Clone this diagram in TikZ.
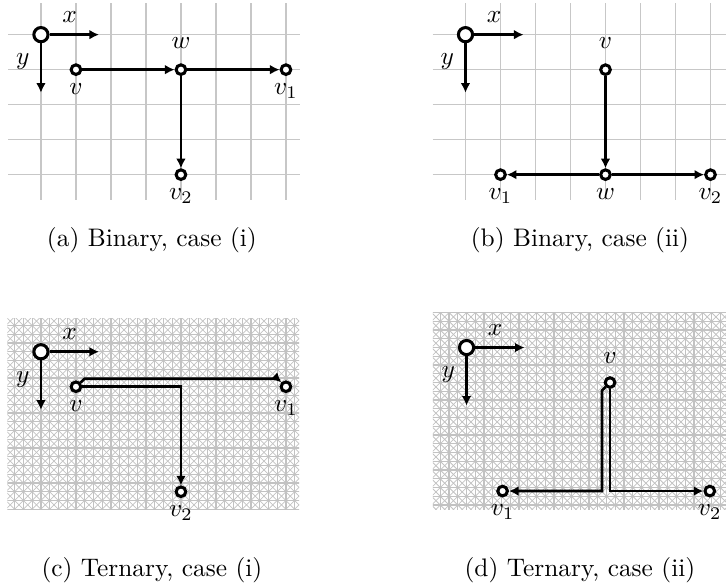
\documentclass[tikz,border=0pt]{standalone}
\usepackage{tikz}
\usetikzlibrary{arrows.meta, positioning, calc}
\tikzset{
  vertex/.style={
    circle, draw=black, fill=white, line width=1.2pt,
    inner sep=0pt, minimum size=3.8pt
  },
  origin/.style={
    circle, draw=black, fill=white, line width=1.2pt,
    inner sep=0pt, minimum size=5.6pt
  },
  arrow/.style={line width=1.05pt, -{Latex[length=3.8pt,width=3.8pt]}},
  gridline/.style={draw=black!22, line width=0.5pt},
  ternline/.style={draw=black!24, line width=0.5pt},
  terndiag/.style={draw=black!24, line width=0.3pt},
  lbl/.style={inner sep=1.5pt},
  caption/.style={font=\normalsize},
}

\begin{document}
\begin{tikzpicture}[x=0.485cm, y=-0.485cm, node distance=1.2pt]
  \useasboundingbox (0,0) rectangle (20.743,16.8);

  % (a) binary, case (i)
  \begin{scope}[shift={(1.17,0.99)}]
    \foreach \i in {0,...,7} \draw[gridline] (\i,-0.9) -- (\i,4.73);
    \foreach \j in {0,...,4} \draw[gridline] (-0.94,\j) -- (7.4,\j);
    \node (oa)  [origin] at (0,0) {};
    \coordinate (xa) at (1.66,0);
    \coordinate (ya) at (0,1.66);
    \node (lxa) [lbl] at (0.82,-0.5) {$x$};
    \node (lya) [lbl] at (-0.52,0.78) {$y$};
    \node (va)  [vertex] at (1,1) {};
    \node (wa)  [vertex] at (4,1) {};
    \node (va1) [vertex] at (7,1) {};
    \node (va2) [vertex] at (4,4) {};
    \node (lva)  [lbl, below=of va]      {$v$};
    \node (lwa)  [lbl, above=4.3pt of wa] {$w$};
    \node (lva1) [lbl, below=of va1]     {$v_1$};
    \node (lva2) [lbl, below=of va2]     {$v_2$};

    \draw [arrow] (oa) -- (xa);
    \draw [arrow] (oa) -- (ya);
    \draw [arrow] (va) -- (wa);
    \draw [arrow] (wa) -- (va1);
    \draw [arrow] (wa) -- (va2);
  \end{scope}

  % (b) binary, case (ii)
  \begin{scope}[shift={(13.3,0.99)}]
    \foreach \i in {0,...,7} \draw[gridline] (\i,-0.9) -- (\i,4.73);
    \foreach \j in {0,...,4} \draw[gridline] (-0.94,\j) -- (7.45,\j);
    \node (ob)  [origin] at (0,0) {};
    \coordinate (xb) at (1.66,0);
    \coordinate (yb) at (0,1.66);
    \node (lxb) [lbl] at (0.82,-0.5) {$x$};
    \node (lyb) [lbl] at (-0.52,0.78) {$y$};
    \node (vb)  [vertex] at (4,1) {};
    \node (wb)  [vertex] at (4,4) {};
    \node (vb1) [vertex] at (1,4) {};
    \node (vb2) [vertex] at (7,4) {};
    \node (lvb)  [lbl, above=4.3pt of vb] {$v$};
    \node (lwb)  [lbl, below=of wb]      {$w$};
    \node (lvb1) [lbl, below=of vb1]     {$v_1$};
    \node (lvb2) [lbl, below=of vb2]     {$v_2$};

    \draw [arrow] (ob) -- (xb);
    \draw [arrow] (ob) -- (yb);
    \draw [arrow] (vb) -- (wb);
    \draw [arrow] (wb) -- (vb1);
    \draw [arrow] (wb) -- (vb2);
  \end{scope}

  % (c) ternary, case (i)
  \begin{scope}[shift={(1.17,10.05)}]
    \begin{scope}
      \clip (-0.96,-0.96) rectangle (7.38,4.5);
      \foreach \i in {-4,...,30} \draw[ternline] (\i/4,-1) -- (\i/4,4.75);
      \foreach \j in {-4,...,19} \draw[ternline] (-1,\j/4) -- (7.5,\j/4);
      \foreach \k in {-24,...,36} \draw[terndiag] (\k/4-1,-1) -- ++(6,6);
      \foreach \k in {-8,...,50} \draw[terndiag] (\k/4+1,-1) -- ++(-6,6);
    \end{scope}
    \node (oc)  [origin] at (0,0) {};
    \coordinate (xc) at (1.66,0);
    \coordinate (yc) at (0,1.66);
    \node (lxc) [lbl] at (0.82,-0.5) {$x$};
    \node (lyc) [lbl] at (-0.52,0.78) {$y$};
    \node (vc)  [vertex] at (1,1) {};
    \node (vc1) [vertex] at (7,1) {};
    \node (vc2) [vertex] at (4,4) {};
    \node (lvc)  [lbl, below=of vc]  {$v$};
    \node (lvc1) [lbl, below=of vc1] {$v_1$};
    \node (lvc2) [lbl, below=of vc2] {$v_2$};

    \draw [arrow] (oc) -- (xc);
    \draw [arrow] (oc) -- (yc);
    \draw [arrow] (vc) -- ($(vc)+(0.25,-0.23)$) -- ($(vc1)+(-0.25,-0.23)$) -- (vc1);
    \draw [arrow] (vc) -| (vc2);
  \end{scope}

  % (d) ternary, case (ii)
  \begin{scope}[shift={(13.33,9.93)}]
    \begin{scope}
      \clip (-0.96,-0.99) rectangle (7.45,4.62);
      \foreach \i in {-4,...,30} \draw[ternline] (\i/4,-1) -- (\i/4,4.75);
      \foreach \j in {-4,...,19} \draw[ternline] (-1,\j/4) -- (7.5,\j/4);
      \foreach \k in {-24,...,36} \draw[terndiag] (\k/4-1,-1) -- ++(6,6);
      \foreach \k in {-8,...,50} \draw[terndiag] (\k/4+1,-1) -- ++(-6,6);
    \end{scope}
    \node (od)  [origin] at (0,0) {};
    \coordinate (xd) at (1.66,0);
    \coordinate (yd) at (0,1.66);
    \node (lxd) [lbl] at (0.82,-0.5) {$x$};
    \node (lyd) [lbl] at (-0.52,0.78) {$y$};
    \node (vd)  [vertex] at (4.1,1) {};
    \node (vd1) [vertex] at (1.03,4.1) {};
    \node (vd2) [vertex] at (6.95,4.1) {};
    \node (lvd)  [lbl, above=3.5pt of vd] {$v$};
    \node (lvd1) [lbl, below=of vd1]     {$v_1$};
    \node (lvd2) [lbl, below=of vd2]     {$v_2$};

    \draw [arrow] (od) -- (xd);
    \draw [arrow] (od) -- (yd);
    \draw [arrow] (vd) |- (vd2);
    \draw [arrow] (vd) -- ($(vd)+(-0.23,0.23)$) |- (vd1);
  \end{scope}

  % captions
  \node (capa) [caption] at (4.34,6.86)  {(a) Binary, case (i)};
  \node (capb) [caption] at (16.57,6.86) {(b) Binary, case (ii)};
  \node (capc) [caption] at (4.34,16.29) {(c) Ternary, case (i)};
  \node (capd) [caption] at (16.57,16.29) {(d) Ternary, case (ii)};
\end{tikzpicture}
\end{document}
